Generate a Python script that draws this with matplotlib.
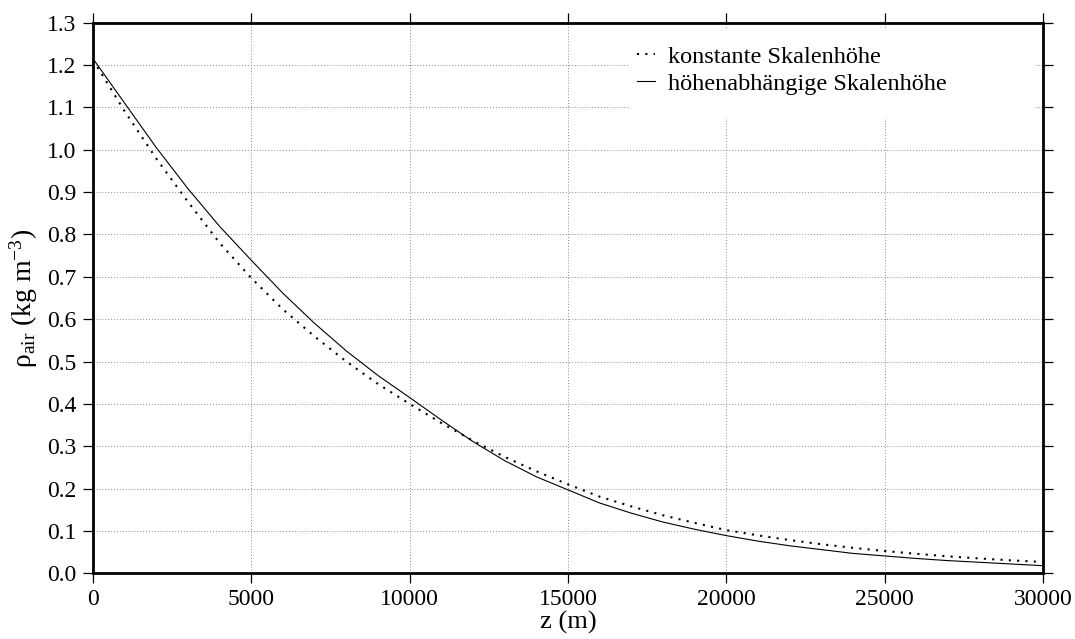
import matplotlib
matplotlib.use('Agg')
import matplotlib.pyplot as plt
from matplotlib.patches import Rectangle
import numpy as np

plt.rcParams['font.family'] = ['Liberation Serif', 'DejaVu Serif']
plt.rcParams['mathtext.fontset'] = 'custom'
plt.rcParams['mathtext.rm'] = 'Liberation Serif'
plt.rcParams['mathtext.it'] = 'Liberation Serif:italic'

# Hoehe z (m)
z = [0, 1000, 2000, 3000, 4000, 5000, 6000, 7000, 8000, 9000, 10000,
     11000, 12000, 13000, 14000, 15000, 16000, 17000, 18000, 19000, 20000,
     21000, 22000, 23000, 24000, 25000, 26000, 27000, 28000, 29000, 30000]

# Dichte bei konstanter Skalenhoehe
rho_konst = [1.212, 1.091, 0.979, 0.877, 0.780, 0.697, 0.623, 0.559, 0.500,
             0.447, 0.400, 0.355, 0.313, 0.275, 0.241, 0.210, 0.181, 0.158,
             0.137, 0.119, 0.102, 0.0896, 0.0785, 0.0687, 0.0602, 0.0527,
             0.0460, 0.0401, 0.0350, 0.0306, 0.0267]

# Dichte bei hoehenabhaengiger Skalenhoehe
rho_var = [1.215, 1.110, 1.005, 0.908, 0.819, 0.739, 0.661, 0.590, 0.525,
           0.467, 0.415, 0.362, 0.311, 0.266, 0.228, 0.197, 0.166, 0.142,
           0.121, 0.104, 0.089, 0.076, 0.065, 0.056, 0.047, 0.041, 0.035,
           0.030, 0.026, 0.022, 0.018]

labels = ['konstante Skalenhöhe', 'höhenabhängige Skalenhöhe']
xticks = [0, 5000, 10000, 15000, 20000, 25000, 30000]
yticks = np.round(np.arange(0, 1.31, 0.1), 1)

fig = plt.figure(figsize=(10.75, 6.39), dpi=100)
ax = fig.add_axes([0.0865, 0.1028, 0.8837, 0.8617])

ax.plot(z, rho_konst, color='black', lw=1.5, linestyle=(0, (1, 3)),
        dash_capstyle='butt', label=labels[0], zorder=3)
ax.plot(z, rho_var, color='black', lw=0.8, label=labels[1], zorder=3)

ax.set_xlim(0, 30000)
ax.set_ylim(0, 1.3)
ax.set_xticks(xticks)
ax.set_yticks(yticks)
ax.set_yticklabels(['%.1f' % v for v in yticks])

ax.set_axisbelow(True)
ax.grid(True, color='#8a8a8a', lw=0.7, linestyle=(0, (1, 2)))

for sp in ax.spines.values():
    sp.set_linewidth(2.0)
ax.tick_params(direction='out', length=7, width=0.9, top=True, right=True,
               labelsize=17, pad=4, colors='black')
ax.tick_params(axis='y', pad=5)

ax.set_xlabel('z (m)', fontsize=19, labelpad=1)
ax.set_ylabel(r'ρ$_{\mathrm{air}}$ (kg m$^{-3}$)', fontsize=20, labelpad=5)

# weisser Kasten hinter der Legende
ax.add_patch(Rectangle((0.565, 0.827), 0.4266, 0.16, transform=ax.transAxes,
                       facecolor='white', edgecolor='none', zorder=1))

leg = ax.legend(loc='upper left', bbox_to_anchor=(0.5726, 0.958), frameon=False,
                fontsize=17.5, handlelength=0.75, handletextpad=0.53,
                labelspacing=0.2, borderpad=0, borderaxespad=0)

fig.savefig('out.png', dpi=100)
